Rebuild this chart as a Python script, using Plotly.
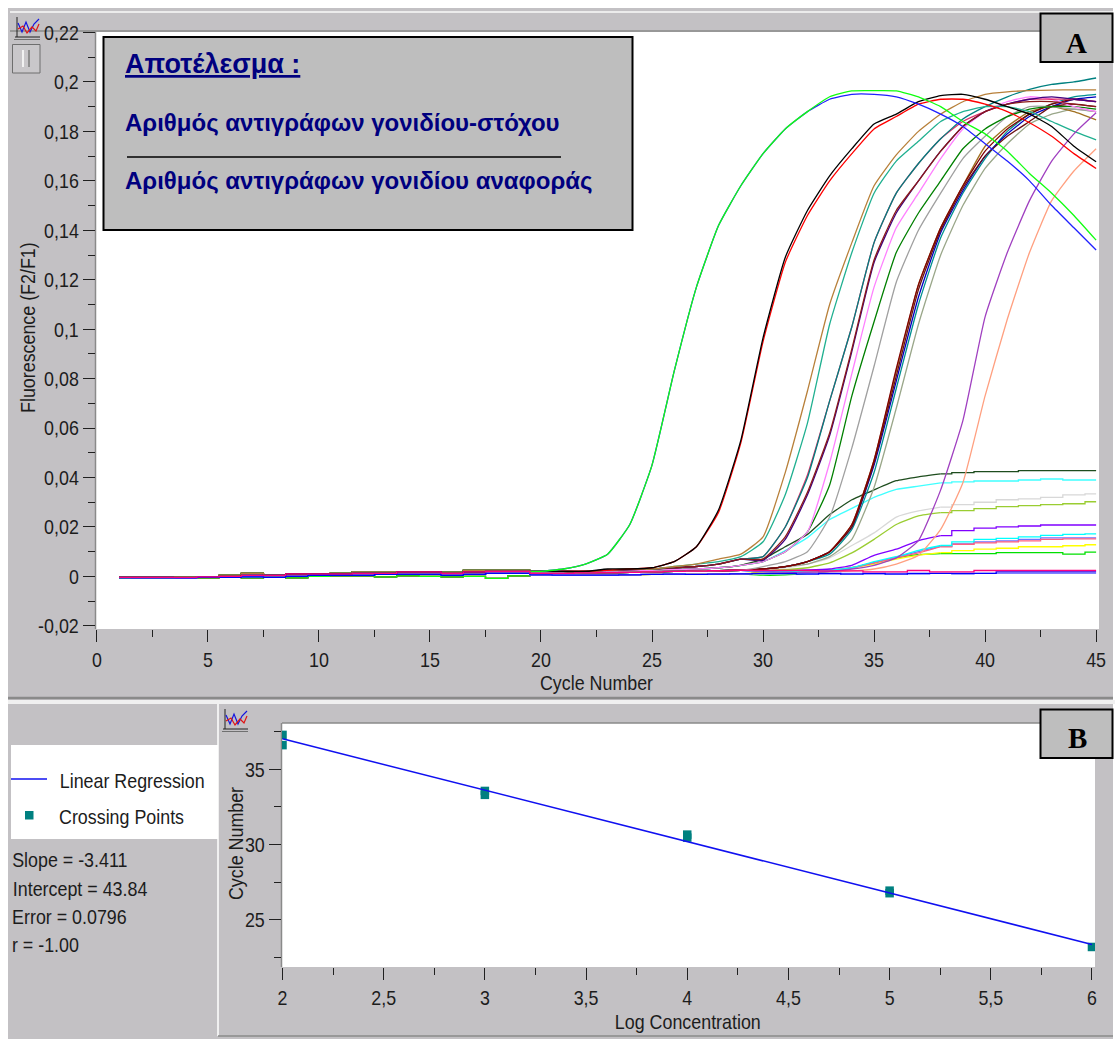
import plotly.graph_objects as go

# ---------- Panel A data: cycle number and fluorescence readings ----------
cycles = list(range(1, 46))

base_a = [-.0004,-.0004,-.0004,-.0002,-.0002,.0004,.0012,.0004,.0008,.0008,.0012,.0018,.0018,.0016,.0016,.0016,.0024,.0024,.0024]
base_b = [-.0004,-.0004,-.0004,-.0004,-.0002,.0000,.0004,.0004,.0010,.0010,.0010,.0012,.0012,.0018,.0018,.0012,.0018,.0020,.0020]
base_c = [-.0006,-.0006,-.0006,-.0006,-.0004,-.0004,-.0002,-.0004,.0000,.0004,.0004,.0004,.0008,.0008,.0008,.0004,.0008,.0012,.0012]
base_d = [-.0008,-.0006,-.0006,-.0004,-.0006,-.0004,-.0006,-.0004,-.0006,.0000,.0002,.0002,-.0002,.0002,.0000,-.0002,.0000,-.0008,.0002]

early_high = [.0020,.0021,.0022,.0025,.0028,.0030,.0035,.0040,.0050,.0070]
early_mid  = [.0018,.0018,.0020,.0021,.0023,.0025,.0028,.0030,.0035,.0045]
early_low  = [.0012,.0012,.0014,.0015,.0016,.0018,.0020,.0021,.0023,.0025]
early_flat = [.0006,.0005,.0005,.0005,.0006,.0008,.0009,.0008,.0009,.0010]

green_a = base_d + [.002,.003,.005,.009,.021,.045,.083,.117,.142,.158,.171,.181,.188,.194,.1964,.1965,.1964,.194,.190,.184,.179,.172,.163,.155,.146,.136]
blue_a  = base_c + [.002,.003,.005,.009,.021,.045,.083,.117,.142,.158,.171,.181,.188,.193,.195,.195,.194,.191,.187,.182,.175,.168,.160,.150,.141,.132]
black   = base_b + [.002,.002,.002,.003,.003,.0035,.006,.012,.027,.055,.0965,.129,.148,.162,.173,.183,.187,.192,.1945,.195,.193,.190,.187,.182,.174,.1677]
red     = base_c + [.002,.002,.002,.0025,.003,.0035,.006,.012,.026,.054,.095,.127,.146,.160,.171,.181,.186,.191,.193,.193,.191,.188,.1835,.178,.171,.165]
brown_a = base_a + [.002,.002,.002,.0025,.003,.003,.004,.005,.007,.009,.016,.042,.075,.110,.135,.158,.1705,.180,.187,.192,.195,.196,.1965,.1967,.1968,.1968]
teal_a  = base_b + [.002,.002,.002,.0025,.003,.003,.004,.005,.006,.008,.014,.033,.062,.102,.131,.155,.168,.176,.184,.188,.190,.190,.188,.184,.180,.1766]

teal_b    = base_a + early_high + [.008,.020,.040,.071,.101,.135,.155,.167,.177,.185,.190,.194,.197,.199,.200,.2016]
crimson   = base_b + early_high + [.008,.020,.041,.071,.101,.135,.155,.167,.177,.184,.188,.191,.193,.193,.193,.192]
maroon_a  = base_c + early_high + [.007,.016,.034,.058,.092,.128,.148,.160,.172,.182,.188,.191,.192,.192,.191,.190]
navy_a    = base_b + early_high + [.0065,.015,.033,.057,.091,.127,.147,.160,.172,.182,.188,.191,.193,.194,.193,.192]
pink      = base_c + early_mid  + [.006,.010,.018,.046,.082,.117,.141,.155,.169,.181,.188,.192,.194,.193,.190,.188]
green_dk  = base_a + early_mid  + [.006,.010,.018,.037,.073,.103,.131,.147,.160,.173,.181,.186,.189,.190,.190,.189]
gray      = base_b + early_low  + [.004,.006,.010,.024,.052,.085,.119,.140,.155,.169,.178,.186,.190,.190,.189,.188]
maroon_b  = base_a + early_low  + [.003,.004,.006,.010,.021,.047,.084,.118,.141,.158,.172,.181,.187,.191,.193,.192]
blue_b    = base_c + early_low  + [.003,.004,.006,.010,.020,.045,.079,.113,.139,.156,.170,.179,.186,.190,.193,.194]
teal_c    = base_b + early_low  + [.003,.004,.006,.009,.019,.042,.076,.110,.137,.155,.169,.180,.187,.191,.194,.195]
sage      = base_c + early_low  + [.003,.004,.005,.008,.015,.036,.068,.102,.130,.150,.165,.175,.183,.187,.189,.188]
brown_b   = base_a + early_low  + [.003,.004,.006,.010,.021,.047,.083,.118,.141,.158,.174,.182,.188,.190,.188,.1847]
maroon_c  = base_d + early_low  + [.003,.004,.006,.010,.020,.046,.081,.116,.140,.157,.170,.178,.184,.190,.191,.190]

purple    = base_b + early_flat + [.0012,.0014,.0016,.002,.003,.0045,.0075,.0145,.035,.063,.105,.131,.152,.168,.179,.1875]
salmon    = base_c + early_flat + [.0012,.0013,.0015,.0018,.0022,.003,.005,.0085,.019,.0379,.073,.104,.131,.152,.164,.173]

green_pl  = base_a + early_mid  + [.007,.012,.017,.025,.031,.035,.0387,.0403,.0415,.0420,.0424,.0424,.0428,.0428,.0428,.0428]
cyan_pl   = base_b + early_mid  + [.006,.0105,.0157,.023,.0275,.032,.0352,.0365,.0378,.0382,.0386,.0386,.0390,.0394,.0390,.0390]
gray_pl   = base_c + early_low  + [.003,.0035,.005,.0075,.0125,.0176,.024,.0265,.028,.029,.030,.031,.0314,.032,.033,.0334]
lime_pl   = base_a + early_low  + [.0026,.0027,.0035,.0055,.0095,.015,.021,.0245,.0258,.0266,.0274,.0282,.0286,.029,.0294,.0302]
violet_pl = base_b + early_low  + [.0022,.0024,.0026,.003,.0045,.0085,.011,.0145,.0165,.0185,.0195,.020,.0204,.0208,.0208,.0208]
cyan_low  = base_c + early_low  + [.002,.002,.0022,.0025,.0035,.006,.008,.0105,.0125,.014,.015,.0154,.016,.0166,.017,.0172]
rose_low  = base_d + early_low  + [.002,.002,.0022,.0025,.0035,.0055,.0075,.0095,.012,.013,.0136,.014,.0144,.015,.0152,.0152]
peri_low  = base_c + early_low  + [.002,.002,.0022,.0025,.0035,.0055,.0078,.010,.0122,.0132,.014,.0144,.015,.0156,.0156,.0156]
yellow    = base_a + early_flat + [.0018,.002,.0022,.0025,.0035,.005,.007,.0085,.0096,.0104,.011,.0114,.012,.012,.0124,.0128]
green_low = base_d + early_flat + [.0005,.0006,.0012,.002,.0035,.0055,.0075,.0088,.0092,.0092,.0092,.0096,.0096,.0096,.0090,.0098]

blue_flat = base_c + early_flat + [.0012,.0012,.0009,.0012,.0009,.0012,.0009,.0012,.0012,.0012,.0012,.0018,.0018,.0018,.0018,.0018]
peri_flat = base_c + early_flat + [.0010,.0010,.0012,.0009,.0012,.0009,.0012,.0009,.0012,.0009,.0012,.0012,.0012,.0012,.0012,.0012]
rose_flat = base_b + early_low  + [.0024,.0024,.0024,.0022,.0022,.0018,.0018,.0024,.0018,.0018,.0024,.0024,.0024,.0024,.0024,.0024]

amplified = [
    (sage, "#9AA78A"), (teal_c, "#009090"), (blue_b, "#0000C0"), (brown_b, "#A07020"), (maroon_c, "#6A1010"), (maroon_b, "#800000"),
    (gray, "#A0A0A0"), (green_dk, "#008000"), (pink, "#FF80FF"), (crimson, "#E0306A"), (teal_b, "#008080"),
    (navy_a, "#400080"), (maroon_a, "#8B1A1A"), (teal_a, "#20B090"), (brown_a, "#B8803A"),
    (salmon, "#FFA080"), (purple, "#A040C0"),
    (red, "#FF0000"), (black, "#000000"), (blue_a, "#2020FF"), (green_a, "#10FF10"),
]
plateaued = [
    (green_low, "#00E000"), (yellow, "#FFFF00"), (peri_low, "#7070FF"), (rose_low, "#FF6080"), (cyan_low, "#00FFFF"),
    (violet_pl, "#8000FF"), (lime_pl, "#9ACD32"), (gray_pl, "#D8D8D8"), (cyan_pl, "#40FFFF"), (green_pl, "#1E4D1E"),
]
flat = [(peri_flat, "#8080FF"), (blue_flat, "#0000FF"), (rose_flat, "#FF0080")]

a_xticks = [0, 5, 10, 15, 20, 25, 30, 35, 40, 45]
a_xminor = [2.5, 7.5, 12.5, 17.5, 22.5, 27.5, 32.5, 37.5, 42.5]
a_yticks = [-.02, 0, .02, .04, .06, .08, .1, .12, .14, .16, .18, .2, .22]
a_ylabels = ["-0,02", "0", "0,02", "0,04", "0,06", "0,08", "0,1", "0,12", "0,14", "0,16", "0,18", "0,2", "0,22"]
a_yminor = [-.01, .01, .03, .05, .07, .09, .11, .13, .15, .17, .19, .21]

# ---------- Panel B data ----------
log_conc_line = [2, 6]
cycle_line = [37.02, 23.37]
log_conc_pts = [2, 2, 3, 3, 4, 4, 5, 5, 6]
crossing_pts = [37.28, 36.6, 33.56, 33.3, 30.66, 30.46, 26.94, 26.77, 23.2]
b_xticks = [2, 2.5, 3, 3.5, 4, 4.5, 5, 5.5, 6]
b_xlabels = ["2", "2,5", "3", "3,5", "4", "4,5", "5", "5,5", "6"]
b_xminor = [2.25, 2.75, 3.25, 3.75, 4.25, 4.75, 5.25, 5.75]
b_yticks = [25, 30, 35]
b_yminor = [22.5, 27.5, 32.5, 37.5]
stats = ["Slope = -3.411", "Intercept = 43.84", "Error = 0.0796", "r = -1.00"]

# ---------- Layout helpers ----------
W, H = 1115, 1039
PANEL = "#C3C1C4"
FONT = "Liberation Sans Narrow, Liberation Sans, Arial, sans-serif"
TXT = "#1c1c1c"
def px(x): return x / W
def py(y): return 1 - y / H

fig = go.Figure()
def piece(vals, col, start, stop, **shape):
    fig.add_trace(go.Scatter(x=cycles[start:stop], y=vals[start:stop], mode="lines", line=dict(color=col, width=1.3, **shape),
                             xaxis="x", yaxis="y", showlegend=False, hoverinfo="skip"))
STEP = dict(shape="hvh")
SMOOTH = dict(shape="spline", smoothing=0.45)
for vals, col in plateaued + amplified + flat:
    piece(vals, col, 0, 20, **STEP)
for vals, col in plateaued:
    piece(vals, col, 19, 38, **SMOOTH)
    piece(vals, col, 37, 45, **STEP)
for vals, col in amplified:
    piece(vals, col, 19, 45, **SMOOTH)
for vals, col in flat:
    piece(vals, col, 19, 45, **STEP)
fig.add_trace(go.Scatter(x=log_conc_pts, y=crossing_pts, mode="markers", name="Crossing Points",
                         marker=dict(symbol="square", size=8.5, color="#008080"), xaxis="x2", yaxis="y2", showlegend=False))
fig.add_trace(go.Scatter(x=log_conc_line, y=cycle_line, mode="lines", name="Linear Regression",
                         line=dict(color="#1010F0", width=1.5), xaxis="x2", yaxis="y2", showlegend=False))

shapes, notes = [], []
def rect(x0, y0, x1, y1, fill, line=None, lw=0, layer="below"):
    shapes.append(dict(type="rect", xref="paper", yref="paper", x0=px(x0), x1=px(x1), y0=py(y0), y1=py(y1),
                       fillcolor=fill, line=dict(color=line or fill, width=lw), layer=layer))
def seg(x0, y0, x1, y1, col, lw=1, layer="above"):
    shapes.append(dict(type="line", xref="paper", yref="paper", x0=px(x0), x1=px(x1), y0=py(y0), y1=py(y1),
                       line=dict(color=col, width=lw), layer=layer))
def poly(points, col, lw=1):
    d = "M " + " L ".join(f"{px(a):.5f},{py(b):.5f}" for a, b in points)
    shapes.append(dict(type="path", xref="paper", yref="paper", path=d, line=dict(color=col, width=lw), layer="above"))
def note(x, y, text, size=21, color=TXT, family=FONT, xa="center", ya="middle", angle=0):
    notes.append(dict(x=px(x), y=py(y), xref="paper", yref="paper", text=text, showarrow=False, textangle=angle,
                      xanchor=xa, yanchor=ya, font=dict(size=size, color=color, family=family), borderpad=0, borderwidth=0))

# panels
rect(8, 8, 1113, 1039, PANEL)
rect(96, 32, 1099, 629, "#FFFFFF")
rect(282, 723, 1095, 967, "#FFFFFF")
seg(10, 12, 1113, 12, "#ECECEC", 2, "below")
seg(10, 31, 1099, 31, "#8A8A8A", 1.5, "below")
seg(8, 698, 1113, 698, "#8A8A8A", 2.5, "below")
rect(8, 700, 1115, 704, "#F0F0F0")
seg(218, 704, 218, 1036, "#F0F0F0", 2, "below")
seg(218, 1036, 1113, 1036, "#8A8A8A", 1.5, "below")
seg(95.5, 32, 95.5, 629, "#8A8A8A", 1.5, "below")
seg(282, 723, 1095, 723, "#8A8A8A", 1.5, "below")
seg(281.5, 723, 281.5, 967, "#8A8A8A", 1.5, "below")

# result box
rect(103.5, 37, 632.5, 230, "#BEBEBE", "#000000", 2, "above")
note(125, 64, "<u><b>Αποτέλεσμα :</b></u>", 27, "#00007F", "Liberation Sans", "left")
note(125, 122, "<b>Αριθμός αντιγράφων γονιδίου-στόχου</b>", 24, "#00007F", "Liberation Sans", "left")
seg(127, 157, 561, 157, "#000000", 1.5)
note(125, 180, "<b>Αριθμός αντιγράφων γονιδίου αναφοράς</b>", 24, "#00007F", "Liberation Sans", "left")

# A / B tags
rect(1040.5, 13.5, 1112.5, 62, "#BEBEBE", "#000000", 2, "above")
note(1076, 43, "<b>A</b>", 29, "#000000", "Liberation Serif")
rect(1040.5, 709.5, 1112.5, 758, "#BEBEBE", "#000000", 2, "above")
note(1077, 738, "<b>B</b>", 29, "#000000", "Liberation Serif")

# chart icons and button
for ox, oy in [(14, 15), (222, 707)]:
    seg(ox + 3, oy + 2, ox + 3, oy + 22, "#202020", 1)
    seg(ox + 1, oy + 22, ox + 26, oy + 22, "#202020", 1)
    seg(ox, oy + 24.5, ox + 26, oy + 24.5, "#707070", 1)
    poly([(ox + 4, oy + 8), (ox + 8, oy + 17), (ox + 12, oy + 7), (ox + 16, oy + 17), (ox + 20, oy + 9), (ox + 25, oy + 4)], "#1414E0", 1.2)
    poly([(ox + 4, oy + 14), (ox + 9, oy + 11), (ox + 13, oy + 18), (ox + 18, oy + 12), (ox + 22, oy + 16), (ox + 25, oy + 9)], "#E01414", 1.2)
rect(12.5, 44.5, 40, 73, "#C9C7CA", "#6E6E6E", 1, "above")
seg(23, 50, 23, 67, "#F2F2F2", 2)
seg(29, 50, 29, 67, "#8E8E8E", 2)

# legend and statistics
rect(11, 745, 218, 839, "#FFFFFF")
seg(11, 779, 47, 779, "#1010F0", 1.5)
rect(25, 811, 33.5, 819.5, "#008080", layer="above")
note(132, 780, "Linear Regression")
note(121, 816, "Crossing Points")
for label, y, cx in zip(stats, [859, 888, 916, 944], [70, 81, 69, 45]):
    note(cx, y, label)

# axis titles
note(597, 682, "Cycle Number")
note(28, 328, "Fluorescence (F2/F1)", angle=-90)
note(688, 1021, "Log Concentration")
note(235, 844, "Cycle Number", angle=-90)

tick = dict(ticks="outside", tickcolor="#202020", tickwidth=1.3, showgrid=False, zeroline=False, showline=False,
            automargin=False, tickfont=dict(family=FONT, size=21, color=TXT))
minor = dict(tickmode="array", ticks="outside", ticklen=7, tickcolor="#202020", tickwidth=1.3, showgrid=False)

fig.update_layout(
    width=W, height=H, margin=dict(l=0, r=0, t=0, b=0, pad=0), autosize=False,
    paper_bgcolor="#FFFFFF", plot_bgcolor="#FFFFFF", shapes=shapes, annotations=notes, showlegend=False,
    xaxis=dict(domain=[px(96), px(1099)], anchor="y", range=[-0.04, 45.13], tickmode="array",
               tickvals=a_xticks, ticktext=[str(v) for v in a_xticks], ticklen=12, minor=dict(tickvals=a_xminor, **minor), **tick),
    yaxis=dict(domain=[py(629), py(32)], anchor="x", range=[-0.02127, 0.2202], tickmode="array",
               tickvals=a_yticks, ticktext=a_ylabels, ticklen=12, minor=dict(tickvals=a_yminor, **minor), **tick),
    xaxis2=dict(domain=[px(282), px(1095)], anchor="y2", range=[1.9975, 6.015], tickmode="array",
                tickvals=b_xticks, ticktext=b_xlabels, ticklen=12, minor=dict(tickvals=b_xminor, **minor), **tick),
    yaxis2=dict(domain=[py(967), py(723)], anchor="x2", range=[21.87, 38.07], tickmode="array",
                tickvals=b_yticks, ticktext=[str(v) for v in b_yticks], ticklen=12, minor=dict(tickvals=b_yminor, **minor), **tick),
)

narrow_text = """
document.body.style.margin='0';document.body.style.overflow='hidden';
document.querySelectorAll('text').forEach(function(t){
  if((t.style.fontFamily||'').indexOf('Narrow')>=0){
    var n=t.getComputedTextLength();
    t.setAttribute('lengthAdjust','spacingAndGlyphs');
    t.setAttribute('textLength',(n*0.85).toFixed(1));
  }
});
"""
fig.write_html("out.html", config={"displayModeBar": False}, post_script=narrow_text)
